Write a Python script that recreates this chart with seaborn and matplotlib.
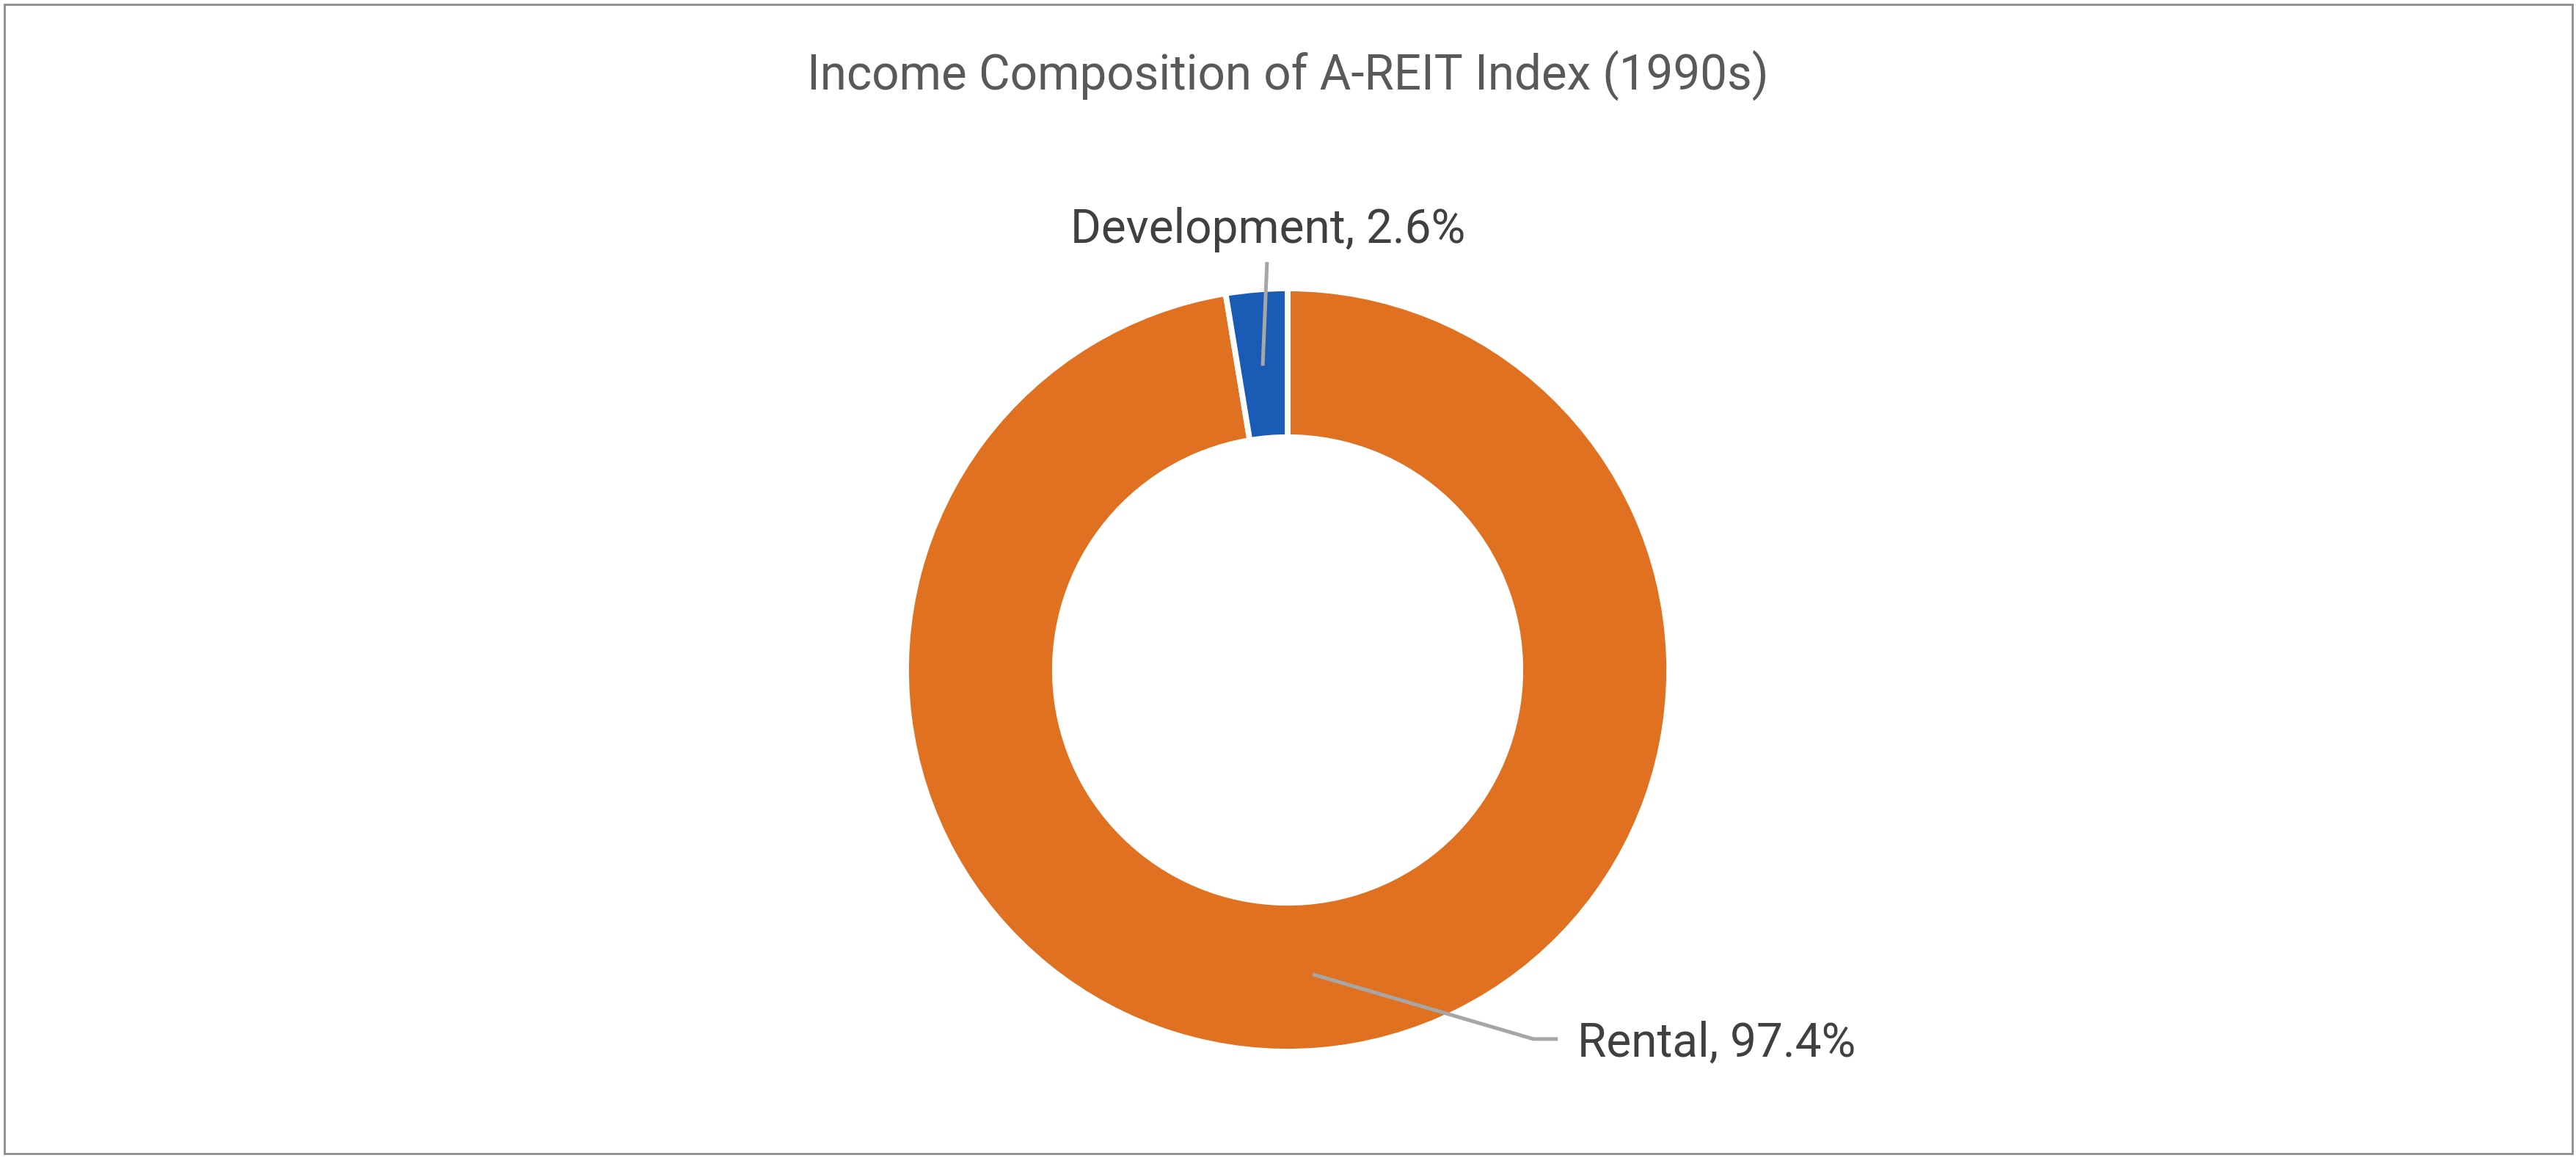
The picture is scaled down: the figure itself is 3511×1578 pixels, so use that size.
import matplotlib
matplotlib.use("Agg")
import matplotlib.pyplot as plt
import seaborn as sns
import numpy as np
from matplotlib.patches import Rectangle

# Data
categories = ["Rental", "Development"]
values = [97.4, 2.6]
colors = ["#E07120", "#1A5CB5"]
title = "Income Composition of A-REIT Index (1990s)"

sns.set_theme(style="white")
plt.rcParams['font.family'] = ['Roboto', 'DejaVu Sans']

W, H, DPI = 3512, 1578, 200
fig = plt.figure(figsize=(W / DPI, H / DPI), dpi=DPI)
ax = fig.add_axes([0, 0, 1, 1])

R_px = 520.0
cx, cy = 1755.0, 913.0

wedges, _ = ax.pie(values, colors=colors, startangle=90, counterclock=False,
                   radius=1.0, wedgeprops=dict(width=0.39, edgecolor='white', linewidth=2.8))

ax.set_xlim((0 - cx) / R_px, (W - cx) / R_px)
ax.set_ylim((cy - H) / R_px, cy / R_px)
ax.set_aspect('equal')
ax.axis('off')

# Leader lines and labels
lead_col = "#A6A6A6"
txt_col = "#404040"
# Development
w = wedges[1]
mid = np.deg2rad((w.theta1 + w.theta2) / 2)
p0 = (0.80 * np.cos(mid), 0.80 * np.sin(mid))
ax.plot([p0[0], -0.054], [p0[1], 1.069], color=lead_col, lw=1.8, solid_capstyle='butt')
ax.text(-0.052, 1.119, f"{categories[1]}, {values[1]}%", ha='center', va='baseline',
        fontsize=23, color=txt_col)
# Rental
w = wedges[0]
mid = np.deg2rad((w.theta1 + w.theta2) / 2)
p0 = (0.80 * np.cos(mid), 0.80 * np.sin(mid))
ax.plot([p0[0], 0.644, 0.708], [p0[1], -0.967, -0.967], color=lead_col, lw=1.8,
        solid_capstyle='butt', solid_joinstyle='miter')
ax.text(0.76, -1.013, f"{categories[0]}, {values[0]}%", ha='left', va='baseline',
        fontsize=23, color=txt_col)

# Title
ax.text(0.0, (cy - 123) / R_px, title, ha='center', va='baseline', fontsize=23.6,
        color="#595959")

# Border
fig.patches.append(Rectangle((0.0017, 0.0038), 0.9966, 0.9924, transform=fig.transFigure,
                             fill=False, edgecolor="#8C8C8C", linewidth=1.0))

fig.savefig("out.png", dpi=DPI, facecolor='white')
